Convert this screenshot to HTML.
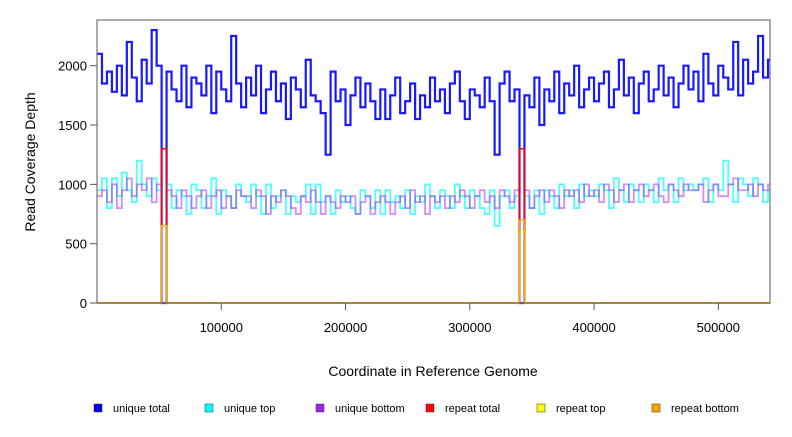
<!DOCTYPE html>
<html><head><meta charset="utf-8"><style>
body{margin:0;background:#fff}
svg text{font-family:"Liberation Sans",sans-serif}
</style></head><body>
<svg id="chart" width="792" height="432" xmlns="http://www.w3.org/2000/svg">
<rect x="0" y="0" width="792" height="432" fill="#fff"/>
<g id="series"></g>
<rect x="97" y="20" width="673" height="283" fill="none" stroke="#555" stroke-width="1"/>
<g id="axes"></g>
<text transform="translate(35,162) rotate(-90)" text-anchor="middle" font-size="14">Read Coverage Depth</text>
<text x="433" y="376" text-anchor="middle" font-size="14">Coordinate in Reference Genome</text>
<g id="legend"></g>
</svg>
<script>
const binSize = 4000;
const uniqueTotal = [2100,1850,1950,1780,2000,1750,2200,1900,1700,2050,
1850,2300,2000,0,1950,1800,1700,2000,1650,1900,
1850,1750,2000,1600,1950,1800,1700,2250,1850,1650,
1900,1750,2000,1600,1800,1950,1700,1850,1550,1900,
1800,1650,2050,1750,1700,1600,1250,1950,1700,1800,
1500,1750,1900,1650,1850,1700,1550,1800,1550,1750,
1900,1600,1700,1850,1550,1750,1650,1900,1700,1800,
1600,1850,1950,1700,1550,1800,1750,1650,1900,1700,
1250,1850,1950,1700,1800,0,1750,1650,1900,1500,
1800,1700,1950,1600,1850,1750,2000,1650,1800,1900,
1700,1850,1950,1650,1800,2050,1750,1900,1600,1850,
1950,1700,1800,2000,1750,1900,1650,1850,2000,1800,
1950,1700,2100,1850,1750,2000,1900,1800,2200,1750,
2050,1850,1950,2250,1900,2050];
const uniqueTop = [950,1050,800,1050,900,1100,950,850,1200,1000,
900,1050,950,0,1000,800,950,900,750,1000,
950,800,900,1050,750,950,900,800,1000,900,
850,1000,900,750,1000,800,900,950,750,900,
850,900,1000,750,1000,850,900,750,950,850,
900,800,750,950,900,800,950,750,950,850,
900,800,950,750,900,850,1000,900,800,950,
900,800,1000,900,800,950,900,800,750,950,
650,900,950,800,900,0,900,800,950,750,
950,900,800,1000,900,950,800,1000,900,950,
900,1000,950,800,1050,950,850,1000,950,850,
1000,950,850,1050,950,1000,850,1050,950,1000,
950,1000,1050,850,1000,950,1200,1000,850,1050,
1000,900,1050,1000,850,950];
const uniqueBottom = [900,950,850,1000,800,950,1050,900,1000,950,
1050,850,1000,0,950,900,800,950,900,800,
900,950,800,900,950,800,900,800,950,900,
900,800,950,900,750,900,850,950,900,800,
750,900,850,950,850,750,900,850,800,900,
850,900,750,850,900,750,850,900,850,750,
850,900,800,950,850,900,750,900,850,900,
800,900,850,950,900,800,900,950,850,900,
800,950,900,850,950,0,950,800,900,950,
850,950,900,800,950,900,950,850,1000,900,
950,850,1000,950,850,950,1000,850,950,1000,
900,950,1000,900,850,1000,950,900,1000,950,
950,1000,850,950,1000,900,900,1000,1050,950,
950,1000,900,1000,950,1000];
const repeatBins = [13, 85];
const repeatTotal = [1300, 1300];
const repeatTop = [650, 600];
const repeatBottom = [650, 700];
const yTicks = [0, 500, 1000, 1500, 2000];
const xTicks = [100000, 200000, 300000, 400000, 500000];
const legendLabels = ["unique total","unique top","unique bottom","repeat total","repeat top","repeat bottom"];
const legendColors = ["#0000ff","#00ffff","#a020f0","#ff0000","#ffff00","#ffa500"];

const NS = "http://www.w3.org/2000/svg";
const xMax = 541600, yMax = 2385;
function xs(v){ return 97 + v / xMax * 673; }
function ys(v){ return 303 - v / yMax * 283; }

function stepPath(vals){
  let d = "M" + xs(0) + "," + ys(vals[0]);
  for (let i = 0; i < vals.length; i++){
    if (i > 0) d += " V" + ys(vals[i]);
    d += " H" + xs(Math.min((i+1)*binSize, xMax));
  }
  return d;
}
function expandRepeat(vals){
  const out = uniqueTotal.map(() => 0);
  repeatBins.forEach((b, k) => { out[b] = vals[k]; });
  return out;
}
const g = document.getElementById("series");
const series = [
  ["unique-total-line", uniqueTotal, "#0000ff", 2.2, 0.9],
  ["unique-top-line", uniqueTop, "#00ffff", 1.8, 0.7],
  ["unique-bottom-line", uniqueBottom, "#a020f0", 1.8, 0.5],
  ["repeat-total-line", expandRepeat(repeatTotal), "#ff0000", 1.6, 1],
  ["repeat-top-line", expandRepeat(repeatTop), "#ffff00", 1.4, 1],
  ["repeat-bottom-line", expandRepeat(repeatBottom), "#ffa500", 1.4, 1]
];
series.forEach(s => {
  const p = document.createElementNS(NS, "path");
  
  
  p.setAttribute("d", stepPath(s[1]));
  p.setAttribute("fill", "none");
  p.setAttribute("stroke", s[2]);
  p.setAttribute("stroke-width", s[3]);
  p.setAttribute("stroke-opacity", s[4]);
  g.appendChild(p);
});

const ax = document.getElementById("axes");
yTicks.forEach(t => {
  const l = document.createElementNS(NS, "line");
  
  
  l.setAttribute("x1", 90); l.setAttribute("x2", 97);
  l.setAttribute("y1", ys(t)); l.setAttribute("y2", ys(t));
  l.setAttribute("stroke", "#555");
  ax.appendChild(l);
  const tx = document.createElementNS(NS, "text");
  
  
  tx.setAttribute("x", 87); tx.setAttribute("y", ys(t) + 5);
  tx.setAttribute("text-anchor", "end"); tx.setAttribute("font-size", "13");
  tx.textContent = t;
  ax.appendChild(tx);
});
xTicks.forEach(t => {
  const l = document.createElementNS(NS, "line");
  
  
  l.setAttribute("x1", xs(t)); l.setAttribute("x2", xs(t));
  l.setAttribute("y1", 303); l.setAttribute("y2", 310);
  l.setAttribute("stroke", "#555");
  ax.appendChild(l);
  const tx = document.createElementNS(NS, "text");
  
  
  tx.setAttribute("x", xs(t)); tx.setAttribute("y", 332);
  tx.setAttribute("text-anchor", "middle"); tx.setAttribute("font-size", "13");
  tx.textContent = t;
  ax.appendChild(tx);
});

const lg = document.getElementById("legend");
const lx = [94, 205, 316, 426, 537, 652];
legendLabels.forEach((lab, i) => {
  const r = document.createElementNS(NS, "rect");
  
  
  r.setAttribute("x", lx[i]); r.setAttribute("y", 404);
  r.setAttribute("width", 8); r.setAttribute("height", 8);
  r.setAttribute("fill", legendColors[i]); r.setAttribute("stroke", "#333"); r.setAttribute("stroke-width", "0.5");
  lg.appendChild(r);
  const t = document.createElementNS(NS, "text");
  
  
  t.setAttribute("x", lx[i] + 19); t.setAttribute("y", 412);
  t.setAttribute("font-size", "11");
  t.textContent = lab;
  lg.appendChild(t);
});
</script>
</body></html>
